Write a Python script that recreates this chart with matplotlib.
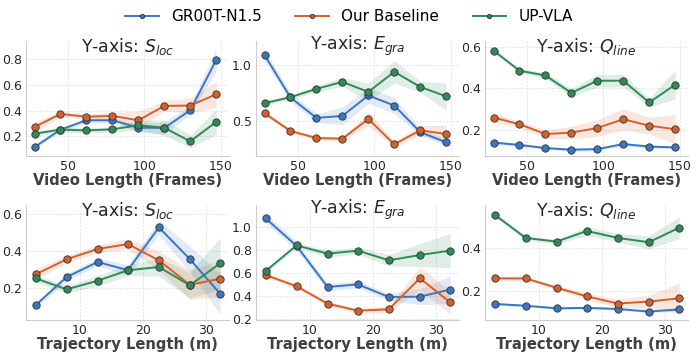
import matplotlib
matplotlib.use("Agg")
import matplotlib.pyplot as plt
import numpy as np

# x positions (bin centres)
video_len = [28, 45, 62, 79, 96, 113, 130, 147]
traj_len = [3.0, 7.9, 12.8, 17.6, 22.5, 27.4, 32.2]

methods = ["GR00T-N1.5", "Our Baseline", "UP-VLA"]
colors = ["#3b76c3", "#d4602b", "#2f8a58"]

# top row: video length
vid_sloc = [
    [0.116, 0.252, 0.325, 0.325, 0.267, 0.265, 0.403, 0.795],
    [0.273, 0.374, 0.353, 0.359, 0.325, 0.437, 0.440, 0.528],
    [0.220, 0.252, 0.246, 0.254, 0.286, 0.267, 0.160, 0.312],
]
vid_sloc_err = [
    [0.015, 0.015, 0.02, 0.02, 0.03, 0.05, 0.03, 0.09],
    [0.04, 0.02, 0.02, 0.03, 0.07, 0.04, 0.06, 0.10],
    [0.02, 0.02, 0.02, 0.02, 0.04, 0.06, 0.05, 0.10],
]
vid_egra = [
    [1.090, 0.710, 0.527, 0.545, 0.728, 0.638, 0.400, 0.308],
    [0.569, 0.410, 0.347, 0.341, 0.518, 0.290, 0.416, 0.383],
    [0.659, 0.713, 0.787, 0.850, 0.760, 0.940, 0.805, 0.720],
]
vid_egra_err = [
    [0.05, 0.04, 0.04, 0.08, 0.07, 0.07, 0.03, 0.03],
    [0.02, 0.02, 0.02, 0.02, 0.06, 0.03, 0.04, 0.08],
    [0.02, 0.02, 0.03, 0.04, 0.08, 0.10, 0.05, 0.12],
]
vid_qline = [
    [0.141, 0.130, 0.115, 0.107, 0.110, 0.134, 0.122, 0.118],
    [0.261, 0.229, 0.182, 0.189, 0.211, 0.253, 0.222, 0.205],
    [0.581, 0.485, 0.462, 0.379, 0.437, 0.437, 0.333, 0.418],
]
vid_qline_err = [
    [0.008, 0.008, 0.008, 0.008, 0.008, 0.008, 0.008, 0.008],
    [0.02, 0.015, 0.02, 0.03, 0.04, 0.05, 0.04, 0.07],
    [0.01, 0.01, 0.015, 0.02, 0.03, 0.03, 0.02, 0.07],
]

# bottom row: trajectory length
trj_sloc = [
    [0.105, 0.258, 0.340, 0.296, 0.529, 0.356, 0.167],
    [0.273, 0.355, 0.411, 0.438, 0.349, 0.216, 0.249],
    [0.251, 0.191, 0.238, 0.295, 0.313, 0.213, 0.333],
]
trj_sloc_err = [
    [0.015, 0.02, 0.02, 0.03, 0.04, 0.07, 0.11],
    [0.03, 0.02, 0.02, 0.03, 0.05, 0.08, 0.10],
    [0.02, 0.02, 0.03, 0.03, 0.05, 0.07, 0.14],
]
trj_egra = [
    [1.078, 0.838, 0.481, 0.504, 0.394, 0.397, 0.458],
    [0.585, 0.487, 0.336, 0.275, 0.287, 0.557, 0.348],
    [0.620, 0.843, 0.771, 0.797, 0.713, 0.759, 0.797],
]
trj_egra_err = [
    [0.04, 0.04, 0.03, 0.03, 0.03, 0.07, 0.12],
    [0.02, 0.02, 0.02, 0.02, 0.03, 0.10, 0.10],
    [0.02, 0.02, 0.03, 0.03, 0.05, 0.10, 0.15],
]
trj_qline = [
    [0.140, 0.132, 0.120, 0.122, 0.117, 0.105, 0.115],
    [0.258, 0.258, 0.215, 0.175, 0.142, 0.151, 0.166],
    [0.552, 0.445, 0.428, 0.477, 0.445, 0.425, 0.492],
]
trj_qline_err = [
    [0.006, 0.006, 0.006, 0.006, 0.006, 0.006, 0.006],
    [0.01, 0.01, 0.01, 0.015, 0.02, 0.03, 0.07],
    [0.01, 0.01, 0.01, 0.02, 0.02, 0.03, 0.05],
]

titles = [r"Y-axis: $S_{loc}$", r"Y-axis: $E_{gra}$", r"Y-axis: $Q_{line}$"]

panels = [
    (video_len, vid_sloc, vid_sloc_err, (0.046, 0.944), [0.2, 0.4, 0.6, 0.8]),
    (video_len, vid_egra, vid_egra_err, (0.186, 1.216), [0.5, 1.0]),
    (video_len, vid_qline, vid_qline_err, (0.077, 0.627), [0.2, 0.4, 0.6]),
    (traj_len, trj_sloc, trj_sloc_err, (0.024, 0.651), [0.2, 0.4, 0.6]),
    (traj_len, trj_egra, trj_egra_err, (0.194, 1.194), [0.2, 0.4, 0.6, 0.8, 1.0]),
    (traj_len, trj_qline, trj_qline_err, (0.066, 0.597), [0.2, 0.4]),
]

W, H = 698, 356
fig = plt.figure(figsize=(W / 100, H / 100), dpi=100)
plt.rcParams["font.family"] = "DejaVu Sans"

lefts = [26, 256, 485]
tops = [41, 205]
aw, ah = 203, 115

handles = []
for i, (xs, ys, errs, ylim, yticks) in enumerate(panels):
    row, col = divmod(i, 3)
    ax = fig.add_axes([lefts[col] / W, (H - tops[row] - ah) / H, aw / W, ah / H])
    for k in range(3):
        y = np.array(ys[k])
        e = np.array(errs[k])
        ax.fill_between(xs, y - e, y + e, color=colors[k], alpha=0.15, lw=0)
        (ln,) = ax.plot(xs, y, color=colors[k], lw=1.4, marker="o", ms=5.3,
                        mec="#333333", mew=0.6, zorder=3, label=methods[k])
        if i == 0:
            handles.append(ln)
    ax.set_ylim(*ylim)
    ax.set_yticks(yticks)
    if row == 0:
        ax.set_xlim(22.4, 155.4)
        ax.set_xticks([50, 100, 150])
        xl = "Video Length (Frames)"
    else:
        ax.set_xlim(1.47, 33.6)
        ax.set_xticks([10, 20, 30])
        xl = "Trajectory Length (m)"
    ax.set_xlabel(xl, fontsize=10.6, fontweight="bold", color="#404040", labelpad=0)
    ax.grid(True, color="#dddddd", linestyle=(0, (2, 2)), linewidth=0.6)
    ax.set_axisbelow(True)
    for s in ["top", "right"]:
        ax.spines[s].set_visible(False)
    for s in ["left", "bottom"]:
        ax.spines[s].set_color("#cccccc")
        ax.spines[s].set_linewidth(0.8)
    ax.tick_params(axis="both", length=0, labelsize=9, pad=3, labelcolor="#262626")
    ax.text(0.5, 0.955, titles[col], transform=ax.transAxes, ha="center",
            va="center", fontsize=12.5, color="#262626")

fig.legend(handles=handles, labels=methods, loc="center", ncol=3,
           bbox_to_anchor=(0.5, 1 - 16.5 / H), frameon=False, fontsize=11,
           markerscale=0.6, columnspacing=2.2, handlelength=2.2)

fig.savefig("out.png", dpi=100)
